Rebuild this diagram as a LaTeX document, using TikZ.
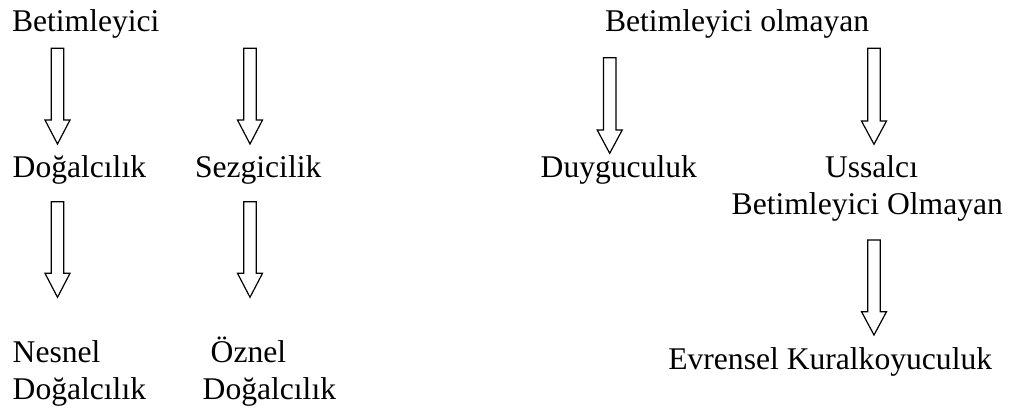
\documentclass[tikz,border=0pt]{standalone}
\usepackage{fontspec}
\setmainfont{Liberation Serif}
\newcommand{\hollowarrow}[4]{%
  \draw[arr] ({#1-6.25},#2) -- ({#1+6.25},#2) -- ({#1+6.25},#3) -- ({#1+12.5},#3)
    -- (#1,#4) -- ({#1-12.5},#3) -- ({#1-6.25},#3) -- cycle;}
\begin{document}
\begin{tikzpicture}[x=0.5pt,y=-0.5pt,
  lbl/.style={inner sep=0pt,outer sep=0pt,anchor=base west,font=\fontsize{15.8}{18.75}\selectfont},
  arr/.style={draw=black,line width=0.6pt,fill=white,line join=miter}]
\useasboundingbox (0,0) rectangle (1012,410);
% texts
\node[lbl] (b1) at (12,31.7) {Betimleyici};
\node[lbl] (b2) at (605,31.7) {Betimleyici olmayan};
\node[lbl] (d1) at (12.7,177.3) {Doğalcılık};
\node[lbl] (s1) at (195,177.3) {Sezgicilik};
\node[lbl] (du) at (540.7,177.3) {Duyguculuk};
\node[lbl] (us) at (825,177.3) {Ussalcı};
\node[lbl] (bo) at (731.7,215) {Betimleyici Olmayan};
\node[lbl] (n1) at (12.7,362.7) {Nesnel};
\node[lbl] (n2) at (12.7,400) {Doğalcılık};
\node[lbl] (o1) at (210.7,362.7) {Öznel};
\node[lbl] (o2) at (202.7,400) {Doğalcılık};
\node[lbl] (ev) at (668.3,370) {Evrensel Kuralkoyuculuk};
% hollow block arrows
\hollowarrow{57.5}{48.3}{120}{144}
\hollowarrow{250}{48.3}{120}{144}
\hollowarrow{57.5}{201.7}{273.3}{297.3}
\hollowarrow{250}{201.7}{273.3}{297.3}
\hollowarrow{609.7}{57.7}{130}{153.3}
\hollowarrow{874}{48.3}{121}{144.3}
\hollowarrow{874}{240}{311.7}{335}
\end{tikzpicture}
\end{document}
